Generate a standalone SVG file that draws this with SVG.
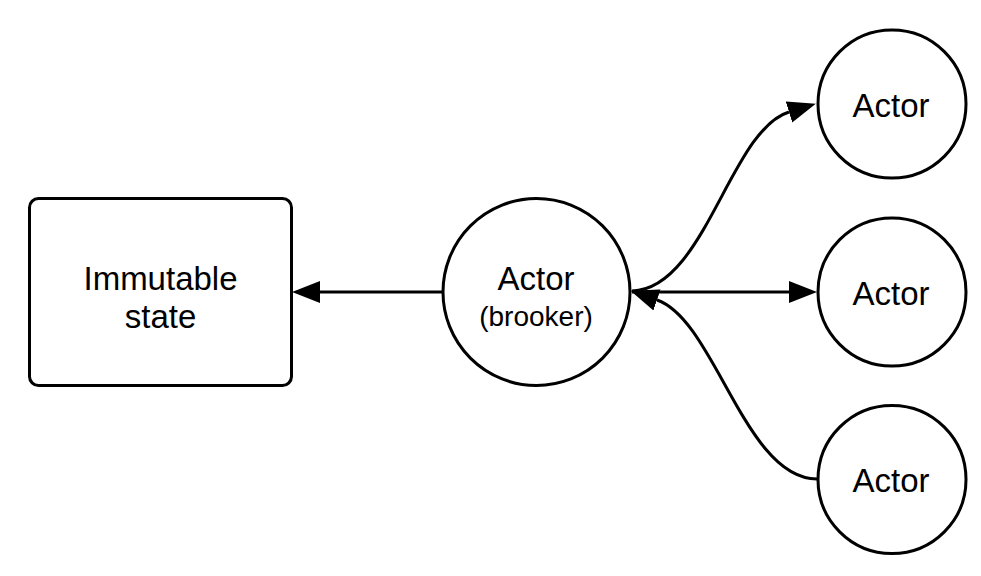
<svg xmlns="http://www.w3.org/2000/svg" width="981" height="576" viewBox="0 0 981 576">
<style>
.shape{fill:#fff;stroke:#000;stroke-width:3}
.edge{fill:none;stroke:#000;stroke-width:3}
.t{font-family:"Liberation Sans",Arial,sans-serif;font-size:33px;fill:#000;text-anchor:middle}
.s{font-size:28px}
</style>
<defs>
<marker id="arr" markerUnits="userSpaceOnUse" markerWidth="30" markerHeight="24" viewBox="0 -12 30 24" refX="0" refY="0" orient="auto">
<path d="M0,-11 L28,0 L0,11 z" fill="#000"/>
</marker>
</defs>
<rect width="981" height="576" fill="#fff"/>
<g id="edges">
<path class="edge" d="M442,292 L320,292" marker-end="url(#arr)"/>
<path class="edge" d="M632,292 L789,292" marker-end="url(#arr)"/>
<path class="edge" d="M632,291 C705,289 730,130 789,112" marker-end="url(#arr)"/>
<path class="edge" d="M817,479 C745,479 715,320 657,300" marker-end="url(#arr)"/>
</g>
<g id="state">
<rect class="shape" x="29.5" y="198.5" width="262" height="187" rx="9"/>
<text class="t" x="160.5" y="290">Immutable</text>
<text class="t" x="160.5" y="328">state</text>
</g>
<g id="broker">
<circle class="shape" cx="536.5" cy="292" r="93.5"/>
<text class="t" x="536" y="290">Actor</text>
<text class="t s" x="536" y="326">(brooker)</text>
</g>
<g id="actor1">
<circle class="shape" cx="892" cy="104" r="74"/>
<text class="t" x="891" y="117">Actor</text>
</g>
<g id="actor2">
<circle class="shape" cx="892" cy="292" r="74"/>
<text class="t" x="891" y="305">Actor</text>
</g>
<g id="actor3">
<circle class="shape" cx="892" cy="479.5" r="74"/>
<text class="t" x="891" y="492">Actor</text>
</g>
</svg>
